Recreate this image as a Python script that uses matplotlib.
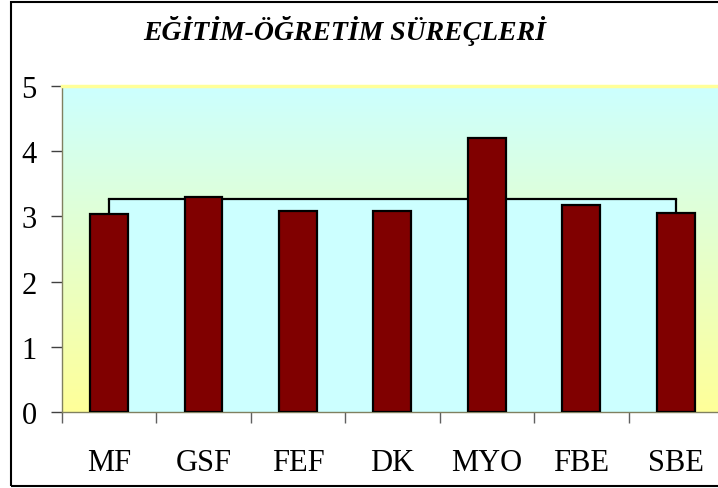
import numpy as np
import matplotlib
matplotlib.use('Agg')
import matplotlib.pyplot as plt
from matplotlib.colors import LinearSegmentedColormap
from matplotlib.patches import Rectangle

# data
categories = ['MF', 'GSF', 'FEF', 'DK', 'MYO', 'FBE', 'SBE']
values = [3.03, 3.29, 3.08, 3.08, 4.21, 3.17, 3.05]
average = 3.26
title = 'EĞİTİM-ÖĞRETİM SÜREÇLERİ'

plt.rcParams['font.family'] = ['Liberation Serif', 'DejaVu Serif']

fig = plt.figure(figsize=(7.18, 4.89), dpi=100)
ax = fig.add_axes([61.7 / 718, 1 - 413 / 489, (723 - 61.7) / 718, (413 - 87) / 489])

x = np.arange(len(categories))
xmin, xmax = -0.5, len(categories) - 0.5
ymin, ymax = 0, 5

# background gradient, yellow at bottom to cyan at top
cmap = LinearSegmentedColormap.from_list('bg', ['#FFFF99', '#CCFFFF'])
grad = np.linspace(0, 1, 256).reshape(-1, 1)
ax.imshow(grad, cmap=cmap, origin='lower', aspect='auto',
          extent=[xmin, xmax, ymin, ymax], zorder=0)

# average area series
area = [average] * len(categories)
ax.fill_between(x, 0, area, color='#CCFFFF', lw=0, zorder=1)
ax.plot(x, area, color='black', lw=1.6, zorder=2)
ax.vlines([x[0], x[-1]], 0, average, color='black', lw=1.6, zorder=2)

# bars
ax.bar(x, values, width=0.4, color='#800000', edgecolor='black', lw=1.6, zorder=3)

ax.set_xlim(xmin, xmax)
ax.set_ylim(ymin, ymax)

ax.set_yticks(range(0, 6))
ax.tick_params(axis='y', direction='out', length=8, width=1, color='#404040',
               labelsize=22, pad=10)
ax.set_xticks(np.arange(xmin, xmax + 0.01, 1))
ax.set_xticklabels([])
ax.set_xticks(x, minor=True)
ax.set_xticklabels(categories, minor=True)
ax.tick_params(axis='x', which='major', direction='out', length=8, width=1,
               color='#606060')
ax.tick_params(axis='x', which='minor', length=0, labelsize=22, pad=26)

for side in ['left', 'bottom']:
    ax.spines[side].set_color('#808060')
    ax.spines[side].set_linewidth(1)
ax.spines['top'].set_color('#FFFF99')
ax.spines['top'].set_linewidth(2.5)
ax.spines['right'].set_visible(False)

fig.text(345 / 718, 1 - 31 / 489, title, ha='center', va='center',
         fontsize=20, fontweight='bold', fontstyle='italic')

# outer chart border
fig.patches.append(Rectangle((11 / 718, 2 / 489), 1.2, 1 - 5 / 489,
                             transform=fig.transFigure, fill=False,
                             edgecolor='black', lw=1.5))

fig.savefig('out.png', dpi=100)
